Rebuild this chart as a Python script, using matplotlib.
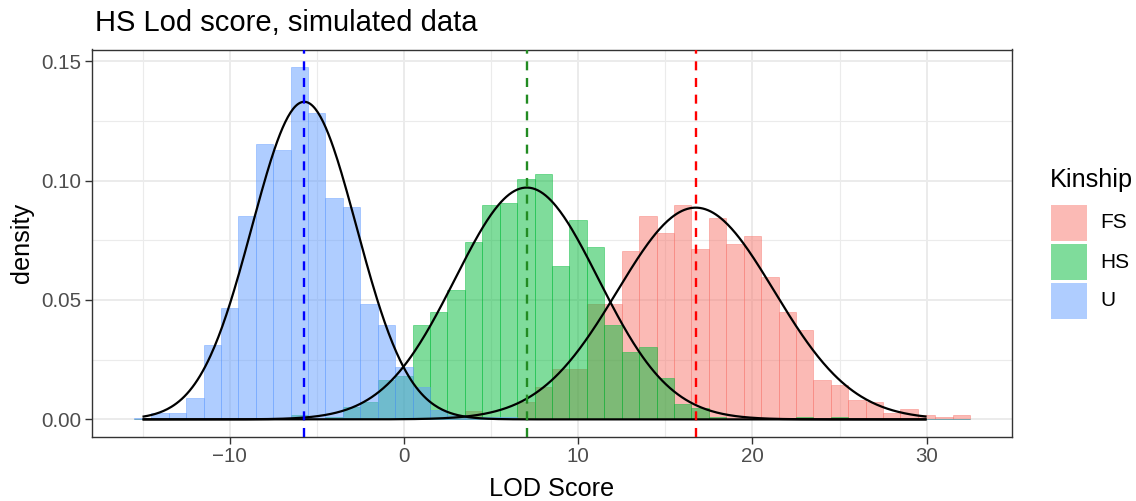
import numpy as np
import matplotlib
matplotlib.use("Agg")
import matplotlib.pyplot as plt
from matplotlib.patches import Rectangle
from matplotlib.ticker import MultipleLocator

plt.rcParams['font.family'] = ['Liberation Sans', 'DejaVu Sans']
plt.rcParams['lines.scale_dashes'] = False

# ---- data (density per integer-centred bin, bin width 1) ----
bin_centers = list(range(-15, 33))

u_density = {
    -15: 0.0004, -14: 0.0025, -13: 0.0025, -12: 0.0090, -11: 0.0311, -10: 0.0465,
    -9: 0.0852, -8: 0.1154, -7: 0.1129, -6: 0.1475, -5: 0.1284, -4: 0.0926,
    -3: 0.0890, -2: 0.0485, -1: 0.0395, 0: 0.0221, 1: 0.0137, 2: 0.0040,
    3: 0.0018, 4: 0.0008, 5: 0.0008, 6: 0.0008,
}
hs_density = {
    -6: 0.0018, -4: 0.0010, -3: 0.0050, -2: 0.0074, -1: 0.0165, 0: 0.0181,
    1: 0.0395, 2: 0.0448, 3: 0.0542, 4: 0.0744, 5: 0.0898, 6: 0.0905,
    7: 0.1007, 8: 0.1028, 9: 0.0643, 10: 0.0835, 11: 0.0721, 12: 0.0396,
    13: 0.0283, 14: 0.0302, 15: 0.0172, 16: 0.0064, 17: 0.0046, 18: 0.0010,
    23: 0.0010, 25: 0.0010,
}
fs_density = {
    3: 0.0005, 4: 0.0035, 7: 0.0074, 8: 0.0137, 9: 0.0211, 10: 0.0211,
    11: 0.0483, 12: 0.0483, 13: 0.0705, 14: 0.0852, 15: 0.0782, 16: 0.0898,
    17: 0.0714, 18: 0.0844, 19: 0.0735, 20: 0.0768, 21: 0.0595, 22: 0.0448,
    23: 0.0374, 24: 0.0165, 25: 0.0144, 26: 0.0081, 27: 0.0073, 28: 0.0028,
    29: 0.0043, 30: 0.0017, 31: 0.0008, 32: 0.0017,
}

groups = ["FS", "HS", "U"]
group_colors = ["#F8766D", "#00BA38", "#619CFF"]
group_density = [fs_density, hs_density, u_density]

# fitted normal curves (mean, sd) and mean-line colours
fit_means = [16.75, 7.05, -5.72]
fit_sds = [4.50, 4.11, 3.00]
mean_line_colors = ["red", "forestgreen", "blue"]
curve_range = (-15, 30)

title = "HS Lod score, simulated data"
xlabel = "LOD Score"
ylabel = "density"
legend_title = "Kinship"

# ---- figure ----
W, H = 1136, 501
fig = plt.figure(figsize=(W / 100, H / 100), dpi=100)
pl, pr, pt, pb = 92, 1012, 49.5, 437
ax = fig.add_axes([pl / W, 1 - pb / H, (pr - pl) / W, (pb - pt) / H])

ax.set_axisbelow(True)
for g, col, dens in zip(groups, group_colors, group_density):
    heights = [dens.get(c, 0.0) for c in bin_centers]
    ax.bar(bin_centers, heights, width=1.0, align='center',
           facecolor=matplotlib.colors.to_rgba(col, 0.5),
           edgecolor=matplotlib.colors.to_rgba(col, 0.5), linewidth=0.6, zorder=2)

xs = np.linspace(curve_range[0], curve_range[1], 600)
for m, s in zip(fit_means, fit_sds):
    ys = np.exp(-0.5 * ((xs - m) / s) ** 2) / (s * np.sqrt(2 * np.pi))
    ax.plot(xs, ys, color='black', lw=1.6, zorder=3, solid_capstyle='butt')

for m, c in zip(fit_means, mean_line_colors):
    ax.axvline(m, color=c, lw=1.7, dashes=(6.5, 5.5), zorder=4)

# limits with ggplot-like 5% expansion
xmin, xmax = bin_centers[0] - 0.5, bin_centers[-1] + 0.5
dx = (xmax - xmin) * 0.05
ax.set_xlim(xmin - dx, xmax + dx)
ymax = max(max(d.values()) for d in group_density)
ax.set_ylim(-0.05 * ymax, 1.05 * ymax)

ax.xaxis.set_major_locator(MultipleLocator(10))
ax.xaxis.set_minor_locator(MultipleLocator(5))
ax.yaxis.set_major_locator(MultipleLocator(0.05))
ax.yaxis.set_minor_locator(MultipleLocator(0.025))
ax.yaxis.set_major_formatter(matplotlib.ticker.FuncFormatter(lambda v, p: f"{v:.2f}"))
ax.xaxis.set_major_formatter(matplotlib.ticker.FuncFormatter(
    lambda v, p: (f"{int(round(v))}".replace("-", "\u2212"))))

ax.grid(which='major', color='#EBEBEB', lw=1.4, zorder=0)
ax.grid(which='minor', color='#EBEBEB', lw=0.8, zorder=0)
for sp in ax.spines.values():
    sp.set_color('#333333')
    sp.set_linewidth(1.0)
ax.tick_params(which='major', length=5, width=1.0, color='#333333',
               labelsize=14.8, labelcolor='#4D4D4D', pad=2.5)
ax.tick_params(which='minor', length=0)

fig.text(95 / W, 1 - 31 / H, title, fontsize=21, ha='left', va='baseline', color='black')
fig.text((pl + pr) / 2 / W, 1 - 496 / H, xlabel, fontsize=18.2, ha='center', va='baseline')
fig.text(22 / W, 1 - ((pt + pb) / 2) / H, ylabel, fontsize=18.2, ha='center',
         va='center', rotation=90)

# legend
fig.text(1050 / W, 1 - 187 / H, legend_title, fontsize=18.2, ha='left', va='baseline')
key_top = 205
key_h = 36
key_gap = 3
for i, (g, col) in enumerate(zip(groups, group_colors)):
    y0 = key_top + i * (key_h + key_gap)
    fig.patches.append(Rectangle((1051 / W, 1 - (y0 + key_h) / H), 36 / W, key_h / H,
                                 transform=fig.transFigure,
                                 facecolor=matplotlib.colors.to_rgba(col, 0.5),
                                 edgecolor='none'))
    fig.text(1100 / W, 1 - (y0 + key_h / 2) / H, g, fontsize=15, ha='left', va='center')

fig.savefig("out.png", dpi=100)
